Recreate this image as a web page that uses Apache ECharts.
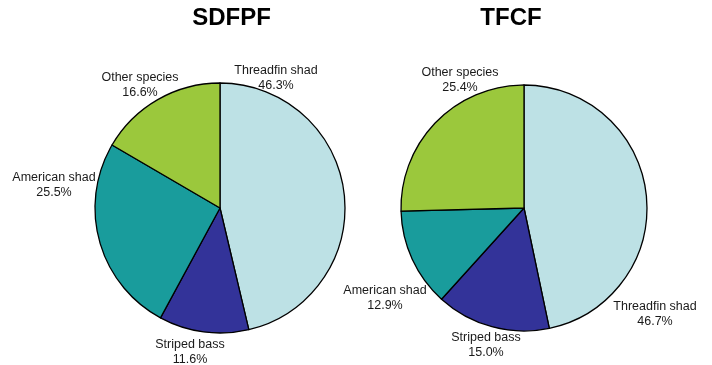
<!DOCTYPE html>
<html><head><meta charset="utf-8">
<script src="https://cdn.jsdelivr.net/npm/echarts@6/dist/echarts.min.js"></script>
<style>html,body{margin:0;padding:0;background:#fff}#c{width:712px;height:365px}</style>
</head><body><div id="c"></div>
<script>
const categories = ["Threadfin shad", "Striped bass", "American shad", "Other species"];
const sdfpfValues = [46.3, 11.6, 25.5, 16.6];
const tfcfValues = [46.7, 15.0, 12.9, 25.4];
const titles = ["SDFPF", "TFCF"];
const colors = ["#bde1e5", "#333399", "#199c9c", "#9bc83c"];
// label anchor points (centre of the two-line label), per series, per category
const labelPos = [
  [[276, 78.5], [190, 352], [54, 185], [140, 85.5]],
  [[655, 314.5], [486, 345.5], [385, 298.5], [460, 80.5]]
];

const chart = echarts.init(document.getElementById('c'));
function mk(vals, center, radius, si) {
  return {
    type: 'pie', center: center, radius: radius, startAngle: 90, clockwise: true,
    animation: false, avoidLabelOverlap: false,
    data: categories.map((c, i) => ({name: c, value: vals[i], itemStyle: {color: colors[i]}})),
    itemStyle: {borderColor: '#000', borderWidth: 1.3},
    label: {show: true, position: 'outside', formatter: p => p.name + '\n' + p.value.toFixed(1) + '%',
      fontFamily: 'Liberation Sans, Arial, sans-serif', fontSize: 12.5, color: '#1a1a1a', lineHeight: 15, align: 'center'},
    labelLine: {show: false},
    labelLayout: p => ({x: labelPos[si][p.dataIndex][0], y: labelPos[si][p.dataIndex][1], align: 'center', verticalAlign: 'middle'}),
    emphasis: {disabled: true}
  };
}
const tStyle = {fontFamily: 'Liberation Sans, Arial, sans-serif', fontSize: 24, fontWeight: 'bold', color: '#000'};
chart.setOption({
  backgroundColor: '#fff',
  title: [
    {text: titles[0], left: 231.5, top: 6, padding: 0, textAlign: 'center', textStyle: tStyle},
    {text: titles[1], left: 511, top: 6, padding: 0, textAlign: 'center', textStyle: tStyle}
  ],
  series: [mk(sdfpfValues, [220, 208], 125, 0), mk(tfcfValues, [524, 208], 123, 1)]
});
</script></body></html>
